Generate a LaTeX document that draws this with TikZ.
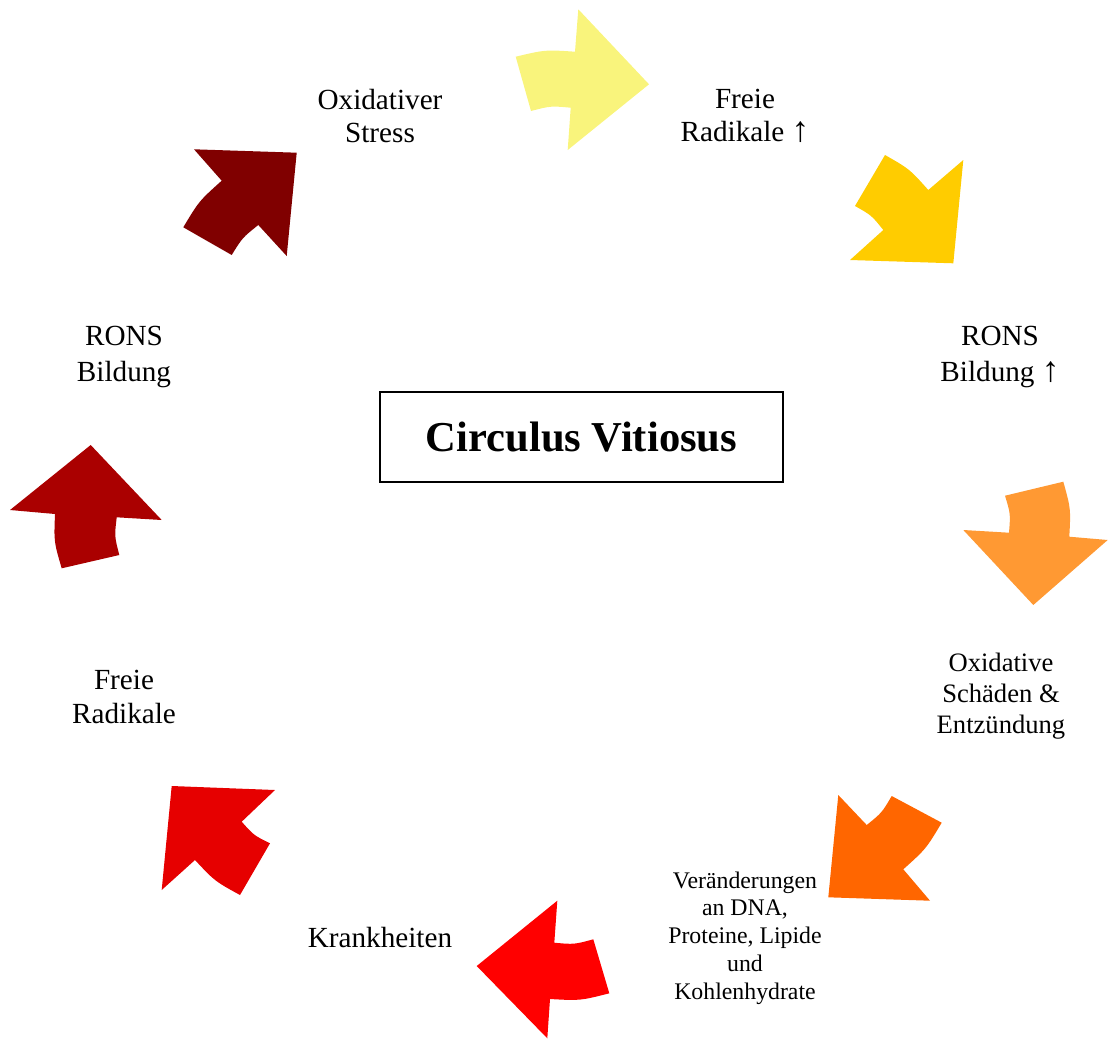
\documentclass[tikz,border=0pt]{standalone}
\usepackage{fontspec}
\usepackage{graphicx}
\setmainfont{Liberation Serif}
\definecolor{cYel}{HTML}{F9F47C}
\definecolor{cGold}{HTML}{FFCC00}
\definecolor{cOra}{HTML}{FF9933}
\definecolor{cDOra}{HTML}{FF6600}
\definecolor{cRed}{HTML}{FF0000}
\definecolor{cRedB}{HTML}{E60000}
\definecolor{cDRed}{HTML}{AA0000}
\definecolor{cMar}{HTML}{800000}
\newcommand{\upar}{\resizebox{!}{0.68em}{↑}}
\tikzset{
  lbl/.style={align=center, inner sep=0pt, font=\fontsize{14.6}{16.5}\selectfont},
  lblsmall/.style={align=center, inner sep=0pt, font=\fontsize{11.9}{13.9}\selectfont},
  titlebox/.style={draw=black, line width=0.85pt, minimum width=201.5pt, minimum height=45pt, inner sep=0pt, font=\fontsize{21.3}{24}\selectfont\bfseries}
}
\begin{document}
\begin{tikzpicture}[x=0.5pt,y=-0.5pt]
\useasboundingbox (0,0) rectangle (1108,1039);
% arrows
\fill[cYel] (515.7,56.7) .. controls (545.0,49.7) .. (575,51.7) -- (578.3,9.3) -- (649,84.3) -- (567.7,150) -- (570.7,107.7) .. controls (550.6,105.9) .. (531,111) -- cycle;
\fill[cGold] (885,155) .. controls (909.5,169.0) .. (928.3,190) -- (963.3,160) -- (953.3,263.3) -- (850,260) -- (883.3,230) .. controls (871.5,215.3) .. (855,206) -- cycle;
\fill[cOra] (1063.3,481.7) .. controls (1070.8,508.7) .. (1069.3,536.7) -- (1107.7,540) -- (1033.3,605) -- (963.3,530) -- (1009,532.7) .. controls (1010.5,513.8) .. (1005,495.7) -- cycle;
\fill[cDOra] (941.7,822.7) .. controls (926.0,848.9) .. (903.3,869.3) -- (930,900.7) -- (828.3,897.3) -- (838.3,795) -- (866.7,825) .. controls (881.8,812.8) .. (891.7,796) -- cycle;
\fill[cRed] (609.3,993.3) .. controls (580.1,1000.7) .. (550,999) -- (547.3,1038.3) -- (476.7,966) -- (557.3,900.7) -- (554.3,942.7) .. controls (574.1,944.5) .. (593.3,939.3) -- cycle;
\fill[cRedB] (240,895) .. controls (214.7,881.1) .. (195,860) -- (161.7,890) -- (171.7,786) -- (275,790) -- (241.7,821.7) .. controls (253.8,835.3) .. (270,843.3) -- cycle;
\fill[cDRed] (61.7,568.3) .. controls (53.9,541.7) .. (55,514) -- (10,510) -- (90.7,445) -- (161.7,520) -- (116.7,517.3) .. controls (114.5,536.4) .. (119.3,555) -- cycle;
\fill[cMar] (183.3,227.3) .. controls (199.0,201.1) .. (221.7,180.7) -- (194,149.3) -- (296.7,152.7) -- (286.7,256) -- (258.3,225) .. controls (242.4,237.7) .. (231.7,255) -- cycle;
% title
\node[titlebox] (title) at (581.5,436.7) {Circulus Vitiosus};
% labels
\node[lbl] (oxs) at (380,116) {Oxidativer\\Stress};
\node[lbl] (frup) at (745,116) {Freie\\Radikale \upar};
\node[lbl, font=\fontsize{14.6}{18}\selectfont] (ronsup) at (1000,357) {RONS\\Bildung \upar};
\node[lbl, font=\fontsize{13.3}{15.5}\selectfont] (oxd) at (1001,696) {Oxidative\\Schäden \&\\Entzündung};
\node[lblsmall] (ver) at (745,938) {Veränderungen\\an DNA,\\Proteine, Lipide\\und\\Kohlenhydrate};
\node[lbl] (krank) at (380,937) {Krankheiten};
\node[lbl, font=\fontsize{14.6}{17}\selectfont] (fr) at (124,697) {Freie\\Radikale};
\node[lbl, font=\fontsize{14.6}{18}\selectfont] (rons) at (124,357) {RONS\\Bildung};
\end{tikzpicture}
\end{document}
